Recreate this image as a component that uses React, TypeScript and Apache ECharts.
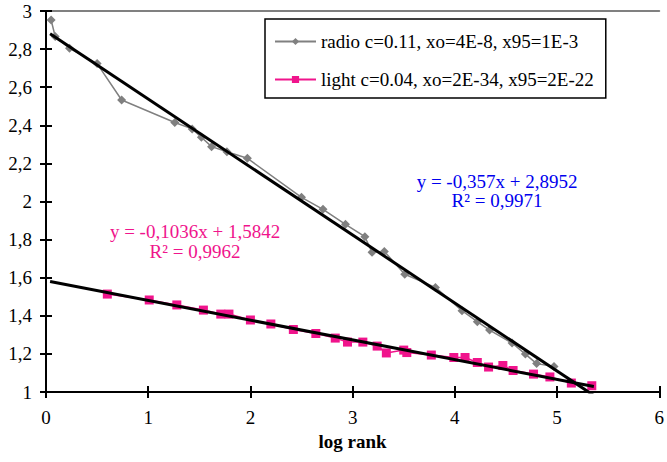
import React, { useEffect, useRef } from "react";
import * as echarts from "echarts";

const FONT = "Liberation Serif";

const radioX = [0.05, 0.09, 0.23, 0.5, 0.74, 1.26, 1.43, 1.52, 1.62, 1.77, 1.97, 2.5, 2.71, 2.93, 3.12, 3.19, 3.31, 3.51, 3.81, 4.07, 4.22, 4.34, 4.56, 4.69, 4.8, 4.97];
const radioY = [2.953, 2.866, 2.804, 2.724, 2.533, 2.415, 2.381, 2.337, 2.288, 2.261, 2.227, 2.022, 1.959, 1.88, 1.815, 1.733, 1.738, 1.618, 1.549, 1.427, 1.369, 1.325, 1.257, 1.199, 1.149, 1.134];

const lightX = [0.6, 1.01, 1.28, 1.54, 1.71, 1.79, 2.0, 2.2, 2.42, 2.64, 2.83, 2.95, 3.1, 3.24, 3.33, 3.5, 3.53, 3.77, 3.99, 4.1, 4.22, 4.33, 4.47, 4.57, 4.77, 4.93, 5.14, 5.34];
const lightY = [1.514, 1.483, 1.457, 1.43, 1.409, 1.409, 1.378, 1.357, 1.328, 1.307, 1.283, 1.262, 1.262, 1.241, 1.205, 1.22, 1.207, 1.194, 1.181, 1.181, 1.155, 1.131, 1.139, 1.113, 1.094, 1.079, 1.047, 1.033];

const radioTrend = { slope: -0.357, intercept: 2.8952, r2: "0,9971", eq: "y = -0,357x + 2,8952" };
const lightTrend = { slope: -0.1036, intercept: 1.5842, r2: "0,9962", eq: "y = -0,1036x + 1,5842" };
const trendRange = [0.04, 5.36];

const legendNames = ["radio c=0.11, xo=4E-8, x95=1E-3", "light c=0.04, xo=2E-34, x95=2E-22"];
const xTicks = { min: 0, max: 6, interval: 1 };
const yTicks = { min: 1, max: 3, interval: 0.2 };
const xTitle = "log rank";

const RADIO_COLOR = "#808080";
const LIGHT_COLOR = "#F0148C";
const BLUE = "#0000EE";

function pairs(xs: number[], ys: number[]) {
  return xs.map((x, i) => [x, ys[i]]);
}
function trendData(t: { slope: number; intercept: number }) {
  return trendRange.map((x) => [x, t.slope * x + t.intercept]);
}

export default function App() {
  const ref = useRef<HTMLDivElement>(null);
  useEffect(() => {
    if (!ref.current) return;
    const chart = echarts.init(ref.current, undefined, { renderer: "svg" });
    const tickStyle = { color: "#000", width: 2 };
    const labelStyle = { fontSize: 19, fontFamily: FONT, color: "#000" };
    const yFmt = (v: number) =>
      Math.abs(v - Math.round(v)) < 1e-9 ? String(Math.round(v)) : v.toFixed(1).replace(".", ",");
    const eqText = (x: number, y: number, lines: string[], color: string) => ({
      type: "text",
      x,
      y,
      style: {
        text: lines.join("\n"),
        fill: color,
        fontSize: 19,
        fontFamily: FONT,
        lineHeight: 19.5,
        align: "center",
        verticalAlign: "middle",
      },
    });
    chart.setOption({
      animation: false,
      backgroundColor: "#fff",
      textStyle: { fontFamily: FONT },
      grid: { left: 46, right: 3, top: 11, bottom: 70, containLabel: false },
      legend: {
        data: legendNames,
        orient: "vertical",
        left: 265,
        top: 19,
        padding: [13, 12, 9, 9],
        itemGap: 19,
        itemWidth: 41,
        itemHeight: 9,
        borderColor: "#000",
        borderWidth: 1.5,
        backgroundColor: "#fff",
        textStyle: { fontSize: 19, fontFamily: FONT, color: "#000" },
      },
      xAxis: [
        {
          type: "value",
          ...xTicks,
          position: "bottom",
          axisLine: { show: true, onZero: false, lineStyle: { color: "#000", width: 2 } },
          axisTick: { show: true, length: 6, lineStyle: tickStyle },
          axisLabel: { margin: 16, ...labelStyle },
          splitLine: { show: false },
          name: xTitle,
          nameLocation: "middle",
          nameGap: 40,
          nameTextStyle: { ...labelStyle, fontWeight: "bold" },
        },
        {
          type: "value",
          ...xTicks,
          position: "bottom",
          axisLine: { show: false, onZero: false },
          axisTick: { show: true, inside: true, length: 6, lineStyle: tickStyle },
          axisLabel: { show: false },
          splitLine: { show: false },
        },
        {
          type: "value",
          ...xTicks,
          position: "top",
          axisLine: { show: true, onZero: false, lineStyle: { color: "#808080", width: 2 } },
          axisTick: { show: false },
          axisLabel: { show: false },
          splitLine: { show: false },
        },
      ],
      yAxis: [
        {
          type: "value",
          ...yTicks,
          position: "left",
          axisLine: { show: true, onZero: false, lineStyle: { color: "#000", width: 2 } },
          axisTick: { show: true, length: 6, lineStyle: tickStyle },
          axisLabel: { margin: 14, ...labelStyle, formatter: yFmt },
          splitLine: { show: false },
        },
        {
          type: "value",
          ...yTicks,
          position: "left",
          axisLine: { show: false, onZero: false },
          axisTick: { show: true, inside: true, length: 6, lineStyle: tickStyle },
          axisLabel: { show: false },
          splitLine: { show: false },
        },
      ],
      series: [
        {
          name: legendNames[0],
          type: "line",
          data: pairs(radioX, radioY),
          symbol: "diamond",
          symbolSize: 9,
          itemStyle: { color: RADIO_COLOR },
          lineStyle: { color: RADIO_COLOR, width: 1.5 },
          z: 2,
        },
        {
          name: legendNames[1],
          type: "line",
          data: pairs(lightX, lightY),
          symbol: "rect",
          symbolSize: 9,
          itemStyle: { color: LIGHT_COLOR },
          lineStyle: { color: LIGHT_COLOR, width: 1.5 },
          z: 2,
        },
        {
          name: "radio trend",
          type: "line",
          data: trendData(radioTrend),
          symbol: "none",
          lineStyle: { color: "#000", width: 3 },
          z: 3,
        },
        {
          name: "light trend",
          type: "line",
          data: trendData(lightTrend),
          symbol: "none",
          lineStyle: { color: "#000", width: 3 },
          z: 3,
        },
      ],
      graphic: [
        eqText(497, 191, [radioTrend.eq, "R² = " + radioTrend.r2], BLUE),
        eqText(195, 241.5, [lightTrend.eq, "R² = " + lightTrend.r2], LIGHT_COLOR),
      ],
    });
    return () => chart.dispose();
  }, []);
  return <div ref={ref} style={{ position: "fixed", left: 0, top: 0, width: 667, height: 462 }} />;
}
